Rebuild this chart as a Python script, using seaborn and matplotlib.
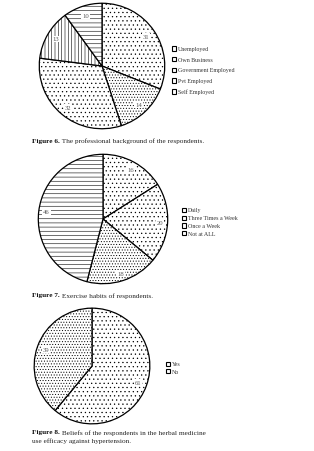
import matplotlib
matplotlib.use("Agg")
import matplotlib.pyplot as plt
import seaborn as sns

sns.set_theme(style="white")
plt.rcParams['font.family'] = ['Liberation Serif', 'DejaVu Serif']
plt.rcParams['hatch.linewidth'] = 0.4

# Data
prof_labels = ["Unemployed", "Own Business", "Government Employed", "Pvt Employed", "Self Employed"]
prof_values = [31, 14, 32, 13, 10]
prof_hatches = ["....", "......", "....", "|||||", "----"]

ex_labels = ["Daily", "Three Times a Week", "Once a Week", "Not at ALL"]
ex_values = [16, 20, 18, 46]
ex_hatches = ["....", "....", "......", "----"]

bel_labels = ["Yes", "No"]
bel_values = [61, 39]
bel_hatches = ["....", "......"]

captions = [
    ("Figure 6.", " The professional background of the respondents."),
    ("Figure 7.", " Exercise habits of respondents."),
    ("Figure 8.", " Beliefs of the respondents in the herbal medicine\nuse efficacy against hypertension."),
]

W, H = 314, 452
fig = plt.figure(figsize=(W / 100, H / 100), dpi=100)
fig.patch.set_facecolor("white")


def px_axes(cx, cy, r):
    return fig.add_axes([(cx - r) / W, (H - cy - r) / H, 2 * r / W, 2 * r / H])


def draw_pie(cx, cy, r, values, labels, hatches, ldist, leg_x, leg_y, leg_gap):
    ax = px_axes(cx, cy, r)
    wedges, texts = ax.pie(values, labels=[str(v) for v in values], startangle=90,
                           counterclock=False, radius=1, labeldistance=ldist,
                           wedgeprops=dict(facecolor="white", edgecolor="black", linewidth=0.9),
                           textprops=dict(fontsize=4.8, color="#555555"))
    for w, h in zip(wedges, hatches):
        w.set_hatch(h)
    for t in texts:
        t.set_ha("center")
        t.set_va("center")
        t.set_bbox(dict(facecolor="white", edgecolor="none", pad=0.6))
    ax.set_xlim(-1.02, 1.02)
    ax.set_ylim(-1.02, 1.02)
    ax.set_aspect("equal")
    ax.axis("off")
    # legend
    for i, lab in enumerate(labels):
        y = leg_y + i * leg_gap
        fig.patches.append(plt.Rectangle(((leg_x) / W, (H - y - 2.2) / H), 4.4 / W, 4.4 / H,
                                         transform=fig.transFigure, facecolor="white",
                                         edgecolor="black", linewidth=0.8))
        fig.text((leg_x + 5.5) / W, (H - y) / H, lab, fontsize=4.3, color="#333333",
                 va="center", ha="left")


draw_pie(102, 67, 64, prof_values, prof_labels, prof_hatches, 0.85, 172, 49.5, 10.7)
draw_pie(103, 220, 66, ex_values, ex_labels, ex_hatches, 0.88, 182, 211, 7.7)
draw_pie(92, 367, 59, bel_values, bel_labels, bel_hatches, 0.85, 166, 365, 7.2)

# Captions
cap_y = [141, 296, 433]
for (b, rest), y in zip(captions, cap_y):
    t = fig.text(32 / W, (H - y) / H, b, fontsize=5.2, fontweight="bold", va="center", ha="left",
                 color="#111111")
    fig.canvas.draw()
    bb = t.get_window_extent()
    lines = rest.split("\n")
    fig.text(bb.x1 / W, (H - y) / H, lines[0], fontsize=5.2, va="center", ha="left", color="#222222")
    for k, ln in enumerate(lines[1:], start=1):
        fig.text(32 / W, (H - y - 8 * k) / H, ln, fontsize=5.2, va="center", ha="left", color="#222222")

fig.savefig("out.png", dpi=100, facecolor="white")
